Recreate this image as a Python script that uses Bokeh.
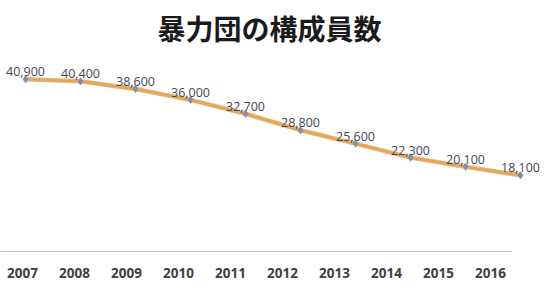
from bokeh.plotting import figure
from bokeh.models import ColumnDataSource, Range1d, LinearAxis, FixedTicker, Title
from bokeh.core.properties import value
from bokeh.embed import file_html
from bokeh.resources import INLINE

title_text = "暴力団の構成員数"
years = [2007, 2008, 2009, 2010, 2011, 2012, 2013, 2014, 2015, 2016]
members = [40900, 40400, 38600, 36000, 32700, 28800, 25600, 22300, 20100, 18100]
labels = [f"{v:,}" for v in members]
tick_labels = {y: str(y) for y in years}

src = ColumnDataSource(dict(x=years, y=members, lab=labels))

p = figure(width=560, height=290, output_backend="svg", toolbar_location=None,
           x_range=Range1d(2006.545, 2016.727), y_range=Range1d(0, 47250),
           min_border_left=0, min_border_right=0, min_border_top=50, min_border_bottom=39,
           x_axis_type=None, y_axis_type=None)
p.outline_line_color = None
p.grid.visible = False
p.background_fill_color = "white"
p.border_fill_color = "white"

t = Title(text=title_text, align="left", offset=157, text_font="Noto Sans CJK JP",
          text_font_size="28px", text_font_style="bold", text_color="#1a1a1a",
          standoff=10)
p.add_layout(t, "above")

p.extra_x_ranges = {"ax": Range1d(2006.577, 2017.346)}
ax = LinearAxis(x_range_name="ax", ticker=FixedTicker(ticks=years),
                major_label_overrides=tick_labels, bounds=(2006.577, 2016.42))
ax.axis_line_color = "#c4c4c4"
ax.major_tick_line_color = None
ax.minor_tick_line_color = None
ax.major_label_standoff = 10
ax.major_label_text_font = "Open Sans"
ax.major_label_text_font_size = "13.5px"
ax.major_label_text_font_style = "bold"
ax.major_label_text_color = "#404040"
p.add_layout(ax, "below")

p.line("x", "y", source=src, line_color="#c98a3a", line_width=4.5, line_alpha=0.6)
p.line("x", "y", source=src, line_color="#eaa552", line_width=2.5)
p.scatter("x", "y", source=src, marker="diamond", size=7, fill_color="#8090a8",
          line_color="#8090a8")
p.text("x", "y", text="lab", source=src, text_align="center", text_baseline="bottom",
       y_offset=-3, text_font=value("Open Sans"), text_font_size="12.5px",
       text_color="#454555")

open("out.html", "w").write(file_html(p, INLINE))
